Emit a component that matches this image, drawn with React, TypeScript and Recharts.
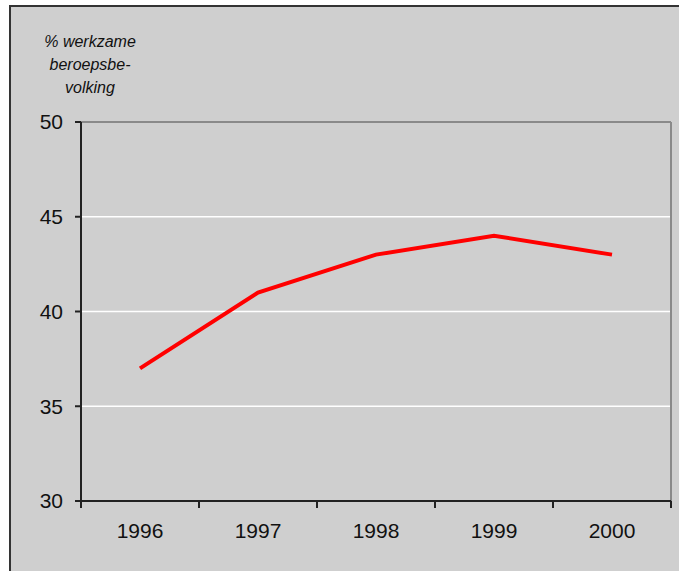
import React from "react";
import { ComposedChart, Line, XAxis, YAxis, ReferenceLine } from "recharts";

const years = ["1996", "1997", "1998", "1999", "2000"];
const values = [37, 41, 43, 44, 43];
const yTicks = [30, 35, 40, 45, 50];
const gridValues = [35, 40, 45];
const yLabelLines = ["% werkzame", "beroepsbe-", "volking"];

const data = years.map((y, i) => ({ year: y, pos: i + 0.5, value: values[i] }));
const xTicks: number[] = [];
for (let i = 0; i <= years.length; i++) {
  xTicks.push(i);
  if (i < years.length) xTicks.push(i + 0.5);
}

const FONT = "Liberation Sans, Arial, sans-serif";

const XTick = (props: any) => {
  const { x, y, payload } = props;
  const v = payload.value as number;
  if (Number.isInteger(v)) {
    return <line x1={x} x2={x} y1={y} y2={y + 7} stroke="#222" strokeWidth={2} />;
  }
  const label = years[Math.floor(v)];
  return (
    <text x={x} y={y + 22} dy="0.71em" textAnchor="middle" fill="#111" fontSize={21} fontFamily={FONT}>
      {label}
    </text>
  );
};

export default function App() {
  return (
    <div style={{ position: "absolute", left: 0, top: 0, width: 679, height: 571, background: "#ffffff", overflow: "hidden" }}>
      <div
        style={{
          position: "absolute",
          left: 9,
          top: 5,
          width: 690,
          height: 600,
          background: "#cfcfcf",
          border: "2px solid #333",
          boxSizing: "border-box",
        }}
      />
      <div style={{ position: "absolute", left: 0, top: 0 }}>
        <ComposedChart
          width={679}
          height={571}
          data={data}
          margin={{ top: 122, right: 8, bottom: 30, left: 21 }}
        >
          <XAxis
            dataKey="pos"
            type="number"
            domain={[0, years.length]}
            ticks={xTicks}
            interval={0}
            allowDataOverflow
            height={40}
            tickSize={0}
            tickMargin={0}
            tickLine={false}
            axisLine={{ stroke: "#222", strokeWidth: 2 }}
            tick={<XTick />}
          />
          <YAxis
            width={60}
            domain={[30, 50]}
            ticks={yTicks}
            interval={0}
            tickSize={6}
            tickMargin={12}
            axisLine={{ stroke: "#222", strokeWidth: 2 }}
            tickLine={{ stroke: "#222", strokeWidth: 2 }}
            tick={{ fill: "#111", fontSize: 21, fontFamily: FONT }}
          />
          {gridValues.map((v) => (
            <ReferenceLine key={v} y={v} stroke="#ffffff" strokeWidth={1.5} />
          ))}
          <ReferenceLine y={50} stroke="#8a8a8a" strokeWidth={2} />
          <ReferenceLine x={years.length} stroke="#8a8a8a" strokeWidth={2} />
          <Line
            dataKey="value"
            stroke="#ff0000"
            strokeWidth={4}
            dot={false}
            isAnimationActive={false}
          />
        </ComposedChart>
      </div>
      <div
        style={{
          position: "absolute",
          left: 30,
          top: 30,
          width: 120,
          textAlign: "center",
          fontFamily: FONT,
          fontStyle: "italic",
          fontSize: 16,
          lineHeight: "23px",
          color: "#111",
        }}
      >
        {yLabelLines.map((t) => (
          <div key={t}>{t}</div>
        ))}
      </div>
    </div>
  );
}
